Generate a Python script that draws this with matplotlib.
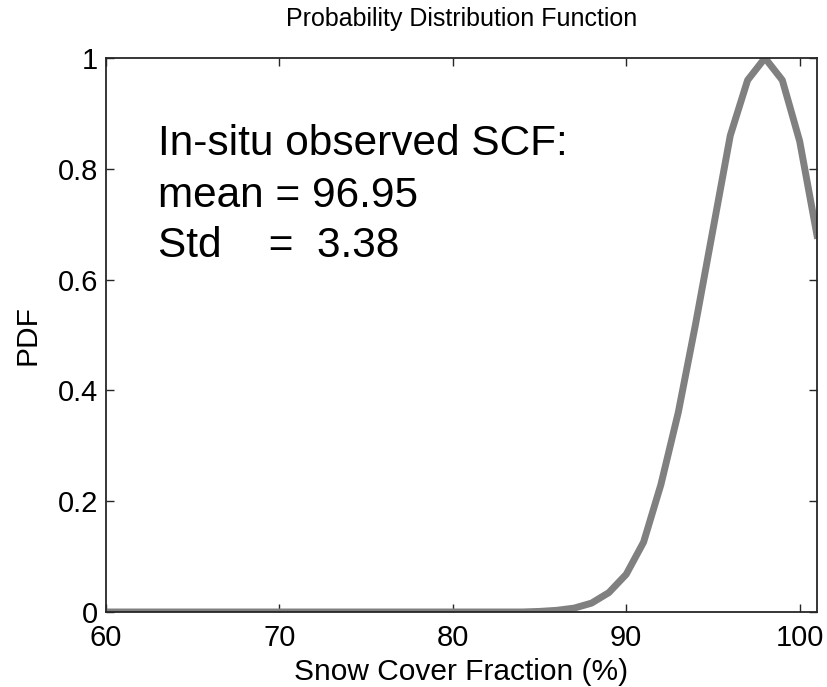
import matplotlib
matplotlib.use("Agg")
import matplotlib.pyplot as plt

plt.rcParams["font.family"] = ["Liberation Sans", "DejaVu Sans"]

# Snow cover fraction (%) and normalised PDF values
scf = list(range(60, 102))
pdf = [0.0] * 25 + [
    0.001, 0.003, 0.007, 0.016, 0.035, 0.068, 0.126, 0.23, 0.36,
    0.52, 0.69, 0.86, 0.96, 1.0, 0.96, 0.85, 0.68,
]

x_ticks = [60, 70, 80, 90, 100]
y_ticks = [0, 0.2, 0.4, 0.6, 0.8, 1]
y_tick_labels = ["0", "0.2", "0.4", "0.6", "0.8", "1"]

stats_lines = ["In-situ observed SCF:", "mean = 96.95", "Std    =  3.38"]

fig = plt.figure(figsize=(8.28, 6.87), dpi=100)
ax = fig.add_axes([0.128, 0.1092, 0.8587, 0.8064])

ax.plot(scf, pdf, color="#808080", linewidth=5)

ax.set_xlim(60, 101)
ax.set_ylim(0, 1)
ax.set_xticks(x_ticks)
ax.set_yticks(y_ticks)
ax.set_yticklabels(y_tick_labels)

for side in ["top", "bottom", "left", "right"]:
    ax.spines[side].set_color("#262626")
    ax.spines[side].set_linewidth(1.3)

ax.tick_params(axis="both", direction="in", length=5.8, width=1.0,
               top=True, right=True, labelsize=21, colors="#262626",
               labelcolor="black")
ax.tick_params(axis="x", pad=8.5)
ax.tick_params(axis="y", pad=5.5)

ax.set_xlabel("Snow Cover Fraction (%)", fontsize=21.5, va="center")
ax.xaxis.set_label_coords(0.5, -0.108)
ax.set_ylabel("PDF", fontsize=21.5, va="center")
ax.yaxis.set_label_coords(-0.111, 0.5)
ax.set_title("Probability Distribution Function", fontsize=18,
             y=1.055, va="center")

# statistics block, one baseline per line
for line, y in zip(stats_lines, [0.825, 0.731, 0.641]):
    ax.text(63.0, y, line, fontsize=30.5, va="baseline", ha="left")

fig.savefig("out.png", dpi=100)
